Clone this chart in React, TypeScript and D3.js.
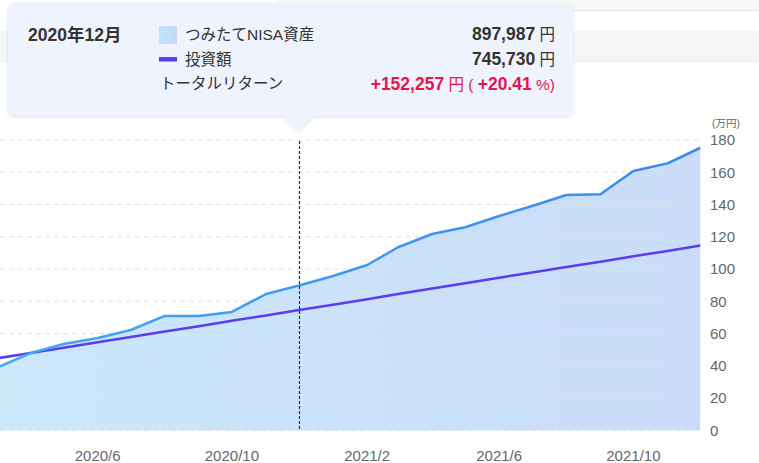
import React from 'react';
import * as d3 from 'd3';

// monthly points, 万円
const months = [
  '2020-03', '2020-04', '2020-05', '2020-06', '2020-07', '2020-08', '2020-09', '2020-10',
  '2020-11', '2020-12', '2021-01', '2021-02', '2021-03', '2021-04', '2021-05', '2021-06',
  '2021-07', '2021-08', '2021-09', '2021-10', '2021-11', '2021-12',
];
const assetValues = [
  38.7, 47.9, 53.5, 57.2, 62.2, 70.9, 70.9, 73.4, 84.5, 89.8, 95.7,
  102.5, 113.5, 121.7, 125.9, 132.9, 139.1, 145.9, 146.3, 160.8, 165.5, 175.2,
];
const investValues = [
  44.57, 47.91, 51.24, 54.57, 57.91, 61.24, 64.57, 67.91, 71.24, 74.57, 77.91,
  81.24, 84.57, 87.91, 91.24, 94.57, 97.91, 101.24, 104.57, 107.91, 111.24, 114.57,
];
const yTicks = [0, 20, 40, 60, 80, 100, 120, 140, 160, 180];
const xTickLabels = ['2020/6', '2020/10', '2021/2', '2021/6', '2021/10'];
const focusMonth = '2020-12';

const tooltipTitle = '2020年12月';
const assetLabel = 'つみたてNISA資産';
const investLabel = '投資額';
const returnLabel = 'トータルリターン';
const assetText = '897,987';
const investText = '745,730';
const returnText = '+152,257';
const returnPct = '+20.41';

const W = 759;
const H = 463;
const FONT = '"Liberation Sans", "Noto Sans CJK JP", sans-serif';

const parseMonth = d3.timeParse('%Y-%m');
const parseTick = d3.timeParse('%Y/%m');

export default function App() {
  const dates = months.map((m) => parseMonth(m)!);
  const x = d3.scaleTime()
    .domain([dates[0], dates[dates.length - 1]])
    .range([-3.5, 700.5]);
  const y = d3.scaleLinear().domain([0, 180]).range([430.3, 140]);

  const asset = dates.map((d, i) => ({ d, v: assetValues[i] }));
  const invest = dates.map((d, i) => ({ d, v: investValues[i] }));

  const area = d3.area<{ d: Date; v: number }>()
    .x((p) => x(p.d))
    .y0(y(0))
    .y1((p) => y(p.v));
  const line = d3.line<{ d: Date; v: number }>()
    .x((p) => x(p.d))
    .y((p) => y(p.v));

  const plotRight = x(dates[dates.length - 1]);
  const fx = x(parseMonth(focusMonth)!);
  const fxLine = Math.floor(fx) + 0.5;

  return (
    <div style={{ position: 'fixed', left: 0, top: 0, width: W, height: H, background: '#fff' }}>
      <svg width={W} height={H} style={{ display: 'block', fontFamily: FONT }}>
        <defs>
          <linearGradient id="areaGrad" x1="0" x2="1" y1="0" y2="0">
            <stop offset="0%" stopColor="#cbe8fb" />
            <stop offset="100%" stopColor="#cadcf9" />
          </linearGradient>
          <linearGradient id="lineGrad" gradientUnits="userSpaceOnUse" x1="0" x2={plotRight} y1="0" y2="0">
            <stop offset="0%" stopColor="#42a8f5" />
            <stop offset="100%" stopColor="#3b88f0" />
          </linearGradient>
          <linearGradient id="legendGrad" x1="0" x2="1" y1="0" y2="0">
            <stop offset="0%" stopColor="#bfe6fb" />
            <stop offset="100%" stopColor="#c7d6f9" />
          </linearGradient>
          <filter id="tipShadow" x="-5%" y="-10%" width="110%" height="130%">
            <feDropShadow dx="0" dy="1" stdDeviation="1.5" floodColor="#000" floodOpacity="0.12" />
          </filter>
          <clipPath id="plotClip">
            <rect x={0} y={0} width={plotRight} height={H} />
          </clipPath>
        </defs>

        {/* background page pieces */}
        <rect x={277} y={0} width={W - 277} height={10} fill="#f7f7f7" />
        <line x1={277} x2={W} y1={10.5} y2={10.5} stroke="#e6e6e6" />
        <rect x={0} y={31} width={W} height={32} fill="#f5f5f5" />

        <g clipPath="url(#plotClip)">
          <path d={area(asset)!} fill="url(#areaGrad)" />
        </g>

        {/* grid */}
        {yTicks.map((t) => (
          <line key={t} x1={0} x2={plotRight} y1={y(t)} y2={y(t)}
            stroke="#dfe2e8" strokeDasharray="5,4" strokeWidth={1} />
        ))}

        <g clipPath="url(#plotClip)">
          <path d={line(invest)!} fill="none" stroke="#5a3cf1" strokeWidth={2.5} />
          <path d={line(asset)!} fill="none" stroke="url(#lineGrad)" strokeWidth={2.5} strokeLinejoin="round" />
        </g>

        <line x1={fxLine} x2={fxLine} y1={141} y2={y(0)} stroke="#0f22b8" strokeWidth={1.2} strokeDasharray="3,2" />

        {/* y axis labels */}
        {yTicks.map((t) => (
          <text key={t} x={710} y={y(t)} dy="0.36em" fontSize={15} fill="#666">{t}</text>
        ))}
        <text x={712} y={127} fontSize={10.5} fill="#666">(万円)</text>

        {/* x axis labels */}
        {xTickLabels.map((l) => (
          <text key={l} x={x(parseTick(l)!)} y={461} textAnchor="middle" fontSize={15} fill="#666">{l}</text>
        ))}

        {/* tooltip */}
        <g filter="url(#tipShadow)">
          <rect x={8} y={3} width={565} height={113} rx={5} fill="#eef3fd" />
          <path d={`M${fx - 16},115 L${fx + 16},115 L${fx},131 Z`} fill="#eef3fd" />
        </g>
        <text x={28} y={40.5} fontSize={17.5} fontWeight="bold" fill="#333">{tooltipTitle}</text>

        <rect x={159} y={26} width={18} height={18} fill="url(#legendGrad)" />
        <text x={185} y={40} fontSize={15.5} fill="#333">{assetLabel}</text>
        <rect x={159} y={57} width={18} height={4.5} fill="#5a3cf1" />
        <text x={185} y={64.5} fontSize={15.5} fill="#333">{investLabel}</text>
        <text x={160} y={89} fontSize={15.5} fill="#333">{returnLabel}</text>

        <text x={555} y={40} textAnchor="end" fill="#333">
          <tspan fontSize={17.5} fontWeight="bold">{assetText}</tspan>
          <tspan fontSize={15.5}> 円</tspan>
        </text>
        <text x={555} y={65} textAnchor="end" fill="#333">
          <tspan fontSize={17.5} fontWeight="bold">{investText}</tspan>
          <tspan fontSize={15.5}> 円</tspan>
        </text>
        <text x={555} y={90} textAnchor="end" fill="#e6154f">
          <tspan fontSize={17.5} fontWeight="bold">{returnText}</tspan>
          <tspan fontSize={15.5}> 円 ( </tspan>
          <tspan fontSize={17.5} fontWeight="bold">{returnPct}</tspan>
          <tspan fontSize={15.5}> %)</tspan>
        </text>
      </svg>
    </div>
  );
}
